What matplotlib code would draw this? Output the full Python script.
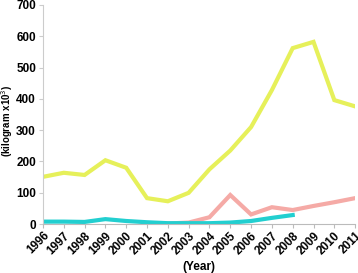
import matplotlib
matplotlib.use('Agg')
import matplotlib.pyplot as plt

plt.rcParams['font.family'] = ['Liberation Sans', 'DejaVu Sans']

years = list(range(1996, 2012))
yellow = [151, 164, 157, 204, 180, 83, 73, 100, 175, 235, 310, 428, 562, 582, 396, 376]
pink_years = list(range(2002, 2012))
pink = [2, 5, 22, 93, 31, 54, 45, 58, 70, 83]
cyan_years = list(range(1996, 2009))
cyan = [8, 8, 7, 16, 10, 6, 3, 3, 3, 5, 10, 20, 29]

fig = plt.figure(figsize=(3.58, 2.73), dpi=100)
ax = fig.add_axes([0.12, 0.179, 0.872, 0.803])

ax.plot(years, yellow, color='#e6f05a', lw=3, solid_joinstyle='miter')
ax.plot(pink_years, pink, color='#f5aaa6', lw=3, solid_joinstyle='miter')
ax.plot(cyan_years, cyan, color='#22cfd0', lw=3, solid_joinstyle='miter')

ax.set_xlim(1996, 2011)
ax.set_ylim(0, 700)
ax.set_xticks(years)
ax.set_xticklabels([str(y) for y in years], rotation=45, ha='right',
                   rotation_mode='anchor', fontsize=8.5, fontweight='bold')
ax.set_yticks(range(0, 701, 100))
ax.set_yticklabels([str(v) for v in range(0, 701, 100)], fontsize=8.5, fontweight='bold')
ax.tick_params(axis='x', length=3, color='#bbbbbb', pad=1)
ax.tick_params(axis='y', length=3, color='#cccccc', pad=2)

for s in ['top', 'right']:
    ax.spines[s].set_visible(False)
ax.spines['left'].set_color('#cccccc')
ax.spines['bottom'].set_color('#bbbbbb')

ax.set_ylabel('(kilogram x10$^3$)', fontsize=7, fontweight='bold')
ax.yaxis.set_label_coords(-0.09, 0.47)
ax.set_xlabel('(Year)', fontsize=8.5, fontweight='bold', labelpad=3)

fig.savefig('out.png', dpi=100)
